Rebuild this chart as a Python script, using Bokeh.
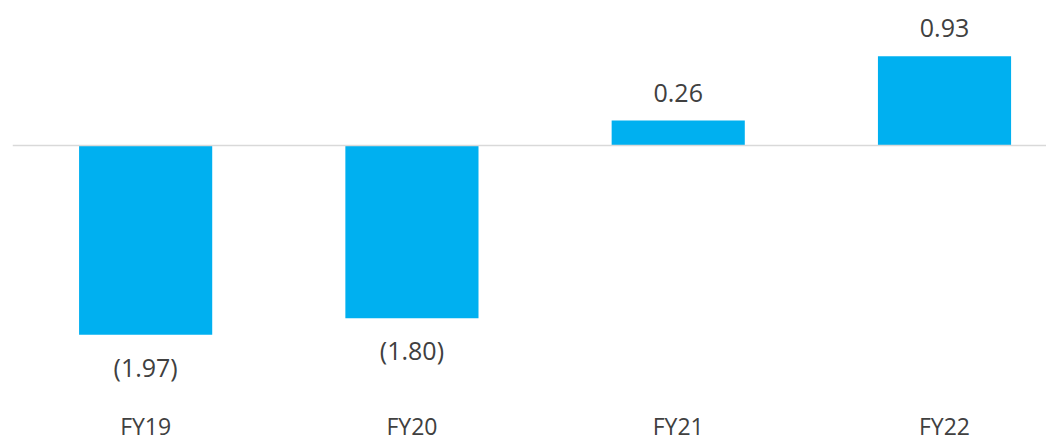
from bokeh.plotting import figure
from bokeh.models import ColumnDataSource, Range1d, FixedTicker, Span
from bokeh.core.properties import value
from bokeh.embed import file_html
from bokeh.resources import INLINE

categories = ["FY19", "FY20", "FY21", "FY22"]
values = [-1.97, -1.80, 0.26, 0.93]

xs = list(range(len(categories)))
labels = [f"({abs(v):.2f})" if v < 0 else f"{v:.2f}" for v in values]

pos = ColumnDataSource(dict(x=[x for x, v in zip(xs, values) if v >= 0],
                            y=[v for v in values if v >= 0],
                            t=[l for l, v in zip(labels, values) if v >= 0]))
neg = ColumnDataSource(dict(x=[x for x, v in zip(xs, values) if v < 0],
                            y=[v for v in values if v < 0],
                            t=[l for l, v in zip(labels, values) if v < 0]))
bars = ColumnDataSource(dict(x=xs, top=values))

p = figure(frame_width=1034, frame_height=383, output_backend="svg", toolbar_location=None,
           x_range=Range1d(-0.5, 3.383), y_range=Range1d(-2.479, 1.5104),
           min_border_left=12, min_border_right=0, min_border_top=0, min_border_bottom=48)
p.outline_line_color = None
p.grid.visible = False
p.yaxis.visible = False
p.background_fill_color = "white"

p.vbar(x="x", top="top", bottom=0, width=0.5, source=bars,
       fill_color="#00B0F0", line_color=None)

p.add_layout(Span(location=0, dimension="width", line_color="#D9D9D9", line_width=1.5))

font = value("Open Sans")
p.text(x="x", y="y", text="t", source=pos, text_font=font, text_font_size="25px",
       text_color="#404040", text_align="center", text_baseline="alphabetic", y_offset=-28)
p.text(x="x", y="y", text="t", source=neg, text_font=font, text_font_size="25px",
       text_color="#404040", text_align="center", text_baseline="alphabetic", y_offset=32)

ax = p.xaxis[0]
ax.ticker = FixedTicker(ticks=xs)
ax.major_label_overrides = {i: c for i, c in zip(xs, categories)}
ax.axis_line_color = None
ax.major_tick_line_color = None
ax.minor_tick_line_color = None
ax.major_label_text_font = "Open Sans"
ax.major_label_text_font_size = "23px"
ax.major_label_text_color = "#404040"
ax.major_label_standoff = 20

open("out.html", "w").write(file_html(p, INLINE))
